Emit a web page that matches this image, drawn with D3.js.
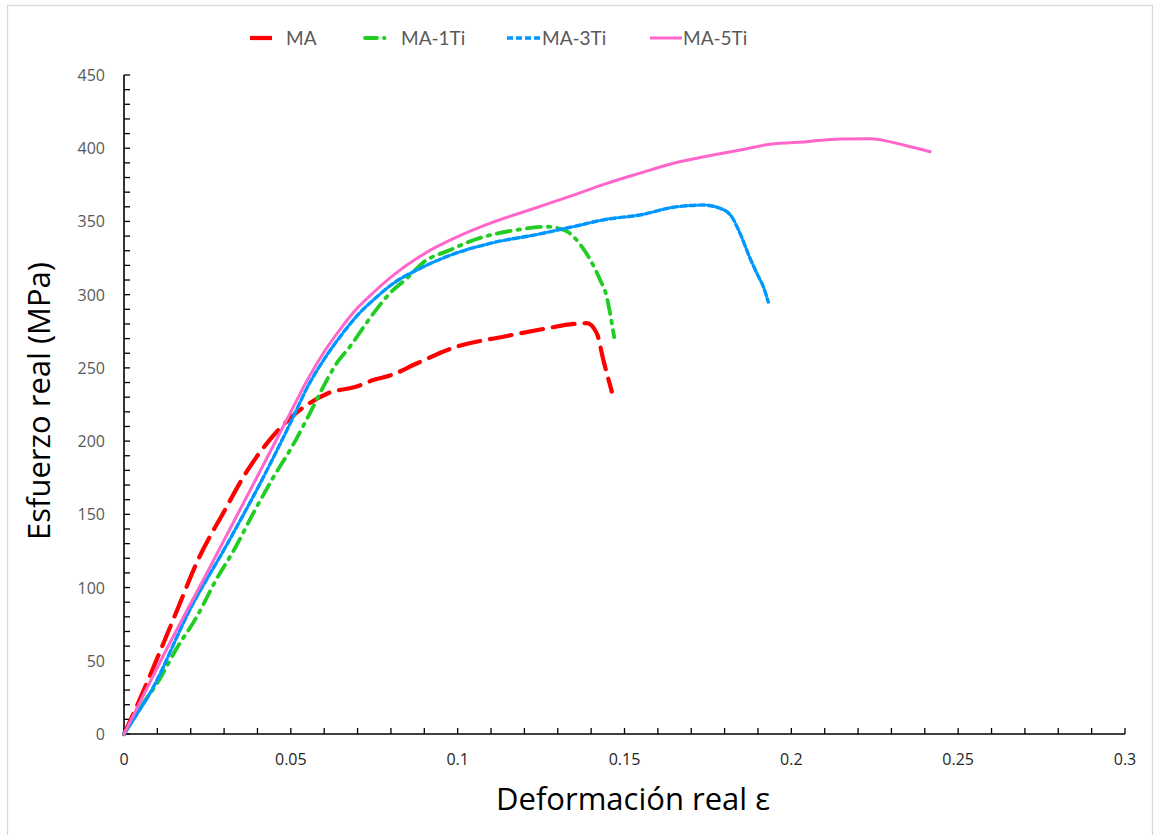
<!DOCTYPE html>
<html><head><meta charset="utf-8">
<script src="https://cdn.jsdelivr.net/npm/d3@7"></script>
<style>body{margin:0;background:#fff}svg{display:block}</style>
</head><body><svg id="c" width="1155" height="835"></svg>
<script>
const seriesNames = ["MA","MA-1Ti","MA-3Ti","MA-5Ti"];
const maStrain = [0,0.005,0.01,0.016,0.022,0.03,0.037,0.043,0.05,0.055,0.061,0.07,0.0747,0.08,0.0877,0.0997,0.1137,0.1267,0.1347,0.1387,0.1417,0.1437,0.1462];
const maStress = [0,25,52,85,118,152,180,199,216,225,232.5,237.5,241.7,245,253,264.5,271.3,277,280,280.5,273.6,255,233.8];
const ti1Strain = [0,0.0058,0.0103,0.0158,0.0218,0.0273,0.0333,0.0388,0.0443,0.0503,0.0557,0.0587,0.0637,0.0677,0.0737,0.0797,0.0847,0.0897,0.0977,0.1057,0.1177,0.1267,0.1307,0.1332,0.1372,0.1397,0.1427,0.1445,0.1457,0.1469];
const ti1Stress = [0,21,36,58.5,80,104,127,151,173.5,196,219,232.6,253,264.5,284,301,311,322,330.5,338,344.2,346.4,345,342.6,332.8,324,310,300,287,271];
const ti3Strain = [0,0.004,0.0078,0.02,0.031,0.041,0.05,0.055,0.06,0.065,0.07,0.075,0.08,0.0897,0.0997,0.1097,0.1247,0.1347,0.1447,0.1546,0.1647,0.1737,0.1786,0.1821,0.1846,0.1876,0.19,0.1915,0.1931];
const ti3Stress = [0,14,28,86,130,172,213,237,256,272,286,297,306.5,319,328.5,335,341.5,346.5,351.5,354.4,359.7,361.2,359,353.3,342,325,313,306,295];
const ti5Strain = [0,0.011,0.026,0.04,0.05,0.055,0.06,0.065,0.07,0.075,0.08,0.09,0.1,0.11,0.1217,0.1347,0.1447,0.1547,0.1647,0.1746,0.1846,0.1936,0.2046,0.2146,0.2236,0.2336,0.2416];
const ti5Stress = [0,50,115,176,220,242,261,277,291,302,312,328,339.6,349,358,368,376,383,389.7,394.5,398.8,402.7,404.5,406.3,406.5,402.2,397.6];
const xTicks = [0,0.05,0.1,0.15,0.2,0.25,0.3];
const xTickLabels = ["0","0.05","0.1","0.15","0.2","0.25","0.3"];
const yTicks = [0,50,100,150,200,250,300,350,400,450];

const svg = d3.select("#c");
svg.append("rect").attr("x",7.5).attr("y",5.5).attr("width",1145).attr("height",840)
  .attr("fill","#fff").attr("stroke","#d9d9d9").attr("stroke-width",1.3);

const x = d3.scaleLinear().domain([0,0.3]).range([124,1125]);
const y = d3.scaleLinear().domain([0,450]).range([734,75]);

const styles = [
  {color:"#ff0000", dash:"22,10", width:4.2},
  {color:"#22cc22", dash:"14,7,2.5,7", width:3.8},
  {color:"#0096ff", dash:"6,3", width:3.4},
  {color:"#ff66cc", dash:null, width:3}
];
const data = [
  maStrain.map((v,i)=>[v,maStress[i]]),
  ti1Strain.map((v,i)=>[v,ti1Stress[i]]),
  ti3Strain.map((v,i)=>[v,ti3Stress[i]]),
  ti5Strain.map((v,i)=>[v,ti5Stress[i]])
];
const line = d3.line().x(d=>x(d[0])).y(d=>y(d[1])).curve(d3.curveMonotoneX);

// axes
const minorX = d3.range(0,0.3001,0.01);
const minorY = d3.range(0,450.1,10);
const g = svg.append("g");
g.selectAll(".mx").data(minorX).enter().append("line")
  .attr("x1",d=>x(d)).attr("x2",d=>x(d)).attr("y1",734).attr("y2",728)
  .attr("stroke","#000").attr("stroke-width",1.3);
g.selectAll(".my").data(minorY).enter().append("line")
  .attr("y1",d=>y(d)).attr("y2",d=>y(d)).attr("x1",124).attr("x2",130)
  .attr("stroke","#000").attr("stroke-width",1.3);
g.append("line").attr("x1",124).attr("x2",124).attr("y1",y(450)).attr("y2",734).attr("stroke","#000").attr("stroke-width",1.6);
g.append("line").attr("x1",124).attr("x2",1125).attr("y1",734).attr("y2",734).attr("stroke","#000").attr("stroke-width",1.6);

const font = "'Open Sans', 'Noto Sans', sans-serif";
g.selectAll(".xl").data(xTicks).enter().append("text")
  .attr("x",d=>x(d)).attr("y",765).attr("text-anchor","middle")
  .attr("font-family",font).attr("font-size",16).attr("fill","#262626")
  .text((d,i)=>xTickLabels[i]);
g.selectAll(".yl").data(yTicks).enter().append("text")
  .attr("x",105).attr("y",d=>y(d)+6).attr("text-anchor","end")
  .attr("font-family",font).attr("font-size",16).attr("fill","#595959")
  .text(d=>d);

svg.append("text").attr("x",633).attr("y",810).attr("text-anchor","middle")
  .attr("font-family",font).attr("font-size",31).attr("fill","#000").text("Deformación real ε");
svg.append("text").attr("transform","translate(50,401) rotate(-90)").attr("text-anchor","middle")
  .attr("font-family",font).attr("font-size",31).attr("fill","#000").text("Esfuerzo real (MPa)");

// series
svg.selectAll(".s").data(data).enter().append("path")
  .attr("d",line).attr("fill","none")
  .attr("stroke",(d,i)=>styles[i].color)
  .attr("stroke-width",(d,i)=>styles[i].width)
  .attr("stroke-dasharray",(d,i)=>styles[i].dash)
  .attr("stroke-linecap","round").attr("stroke-linejoin","round");

// legend
const legX = [250,365,507,650];
const legTX = [286,401,542,683];
const legLen = [23,22,33,32];
const leg = svg.selectAll(".lg").data(seriesNames).enter().append("g");
leg.append("line").attr("x1",(d,i)=>legX[i]).attr("x2",(d,i)=>legX[i]+legLen[i])
  .attr("y1",38).attr("y2",38)
  .attr("stroke",(d,i)=>styles[i].color).attr("stroke-width",(d,i)=>styles[i].width)
  .attr("stroke-dasharray",(d,i)=>i===1?"12,7,0.5,20":styles[i].dash)
  .attr("stroke-linecap",(d,i)=>i===1?"round":"butt");
leg.append("text").attr("x",(d,i)=>legTX[i]).attr("y",45)
  .attr("font-family","Lato, 'Open Sans', sans-serif").attr("font-size",19).attr("fill","#595959").text(d=>d);
</script></body></html>
